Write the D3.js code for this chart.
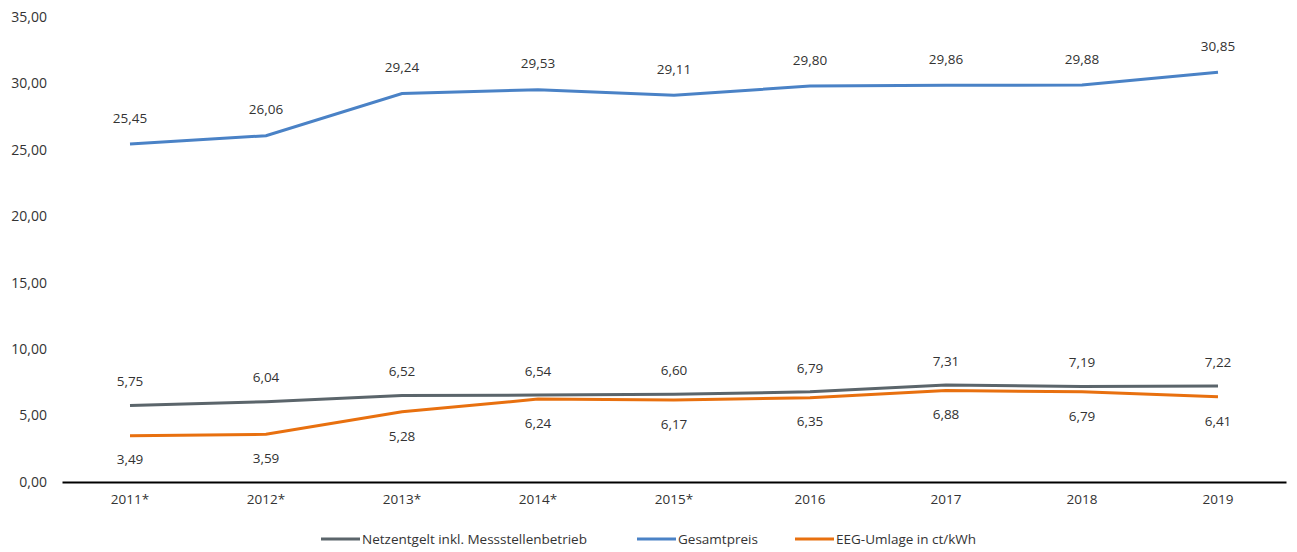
<!DOCTYPE html>
<html>
<head>
<meta charset="utf-8">
<script src="https://cdn.jsdelivr.net/npm/d3@7"></script>
<style>
  body { margin: 0; background: #fff; }
  text { font-family: "Open Sans", "Noto Sans", sans-serif; fill: #333; }
</style>
</head>
<body>
<script>
var years = ["2011*", "2012*", "2013*", "2014*", "2015*", "2016", "2017", "2018", "2019"];
var netz = [5.75, 6.04, 6.52, 6.54, 6.60, 6.79, 7.31, 7.19, 7.22];
var gesamt = [25.45, 26.06, 29.24, 29.53, 29.11, 29.80, 29.86, 29.88, 30.85];
var eeg = [3.49, 3.59, 5.28, 6.24, 6.17, 6.35, 6.88, 6.79, 6.41];
var yTicks = [0, 5, 10, 15, 20, 25, 30, 35];

var width = 1297, height = 552;

var svg = d3.select("body").append("svg")
    .attr("width", width)
    .attr("height", height);

var x = d3.scaleBand().domain(years).range([62, 1286]);
var y = d3.scaleLinear().domain([0, 35]).range([482, 17]);

var fmt = function(v) { return d3.format(".2f")(v).replace(".", ","); };

// y labels
svg.selectAll(".ylab").data(yTicks)
  .enter().append("text")
    .attr("class", "ylab")
    .attr("x", 47)
    .attr("y", function(d) { return y(d); })
    .attr("dy", "0.35em")
    .attr("text-anchor", "end")
    .style("font-size", "14px")
    .text(fmt);

// x axis
var xAxis = svg.append("g")
    .attr("transform", "translate(0," + y(0) + ")")
    .call(d3.axisBottom(x).tickSize(0).tickPadding(12));
xAxis.select(".domain").attr("stroke", "#000").attr("stroke-width", 2);
xAxis.selectAll("text").style("font-size", "13.5px").style("fill", "#333")
    .style("font-family", "'Open Sans', 'Noto Sans', sans-serif");

var series = [
  {name: "Netzentgelt inkl. Messstellenbetrieb", values: netz, color: "#5b656b", off: -24},
  {name: "Gesamtpreis", values: gesamt, color: "#4a82c6", off: -26},
  {name: "EEG-Umlage in ct/kWh", values: eeg, color: "#e8700f", off: 24}
];

var line = d3.line()
    .x(function(d, i) { return x(years[i]) + x.bandwidth() / 2; })
    .y(function(d) { return y(d); });

series.forEach(function(s) {
  svg.append("path")
      .attr("d", line(s.values))
      .attr("fill", "none")
      .attr("stroke", s.color)
      .attr("stroke-width", 3);

  svg.selectAll(null).data(s.values)
    .enter().append("text")
      .attr("x", function(d, i) { return x(years[i]) + x.bandwidth() / 2; })
      .attr("y", function(d) { return y(d) + s.off; })
      .attr("dy", "0.35em")
      .attr("text-anchor", "middle")
      .style("font-size", "13.5px")
      .text(fmt);
});

// legend
var legendX = [321, 637, 795];
var legend = svg.selectAll(".legend").data(series)
  .enter().append("g")
    .attr("class", "legend")
    .attr("transform", function(d, i) { return "translate(" + legendX[i] + ",539)"; });
legend.append("line")
    .attr("x1", 0).attr("x2", 39)
    .attr("stroke", function(d) { return d.color; })
    .attr("stroke-width", 3);
legend.append("text")
    .attr("x", 41)
    .attr("dy", "0.35em")
    .style("font-size", "13.5px")
    .text(function(d) { return d.name; });
</script>
</body>
</html>
